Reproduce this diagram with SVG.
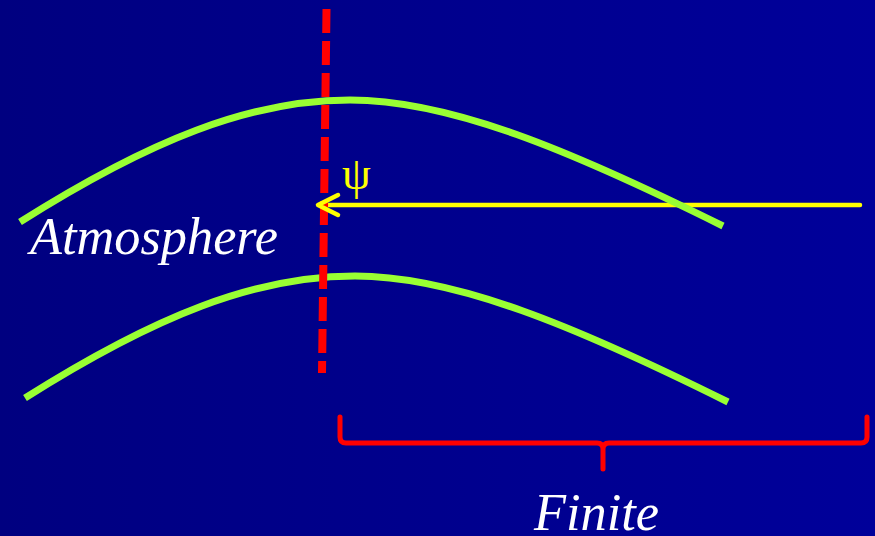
<svg xmlns="http://www.w3.org/2000/svg" width="875" height="536" viewBox="0 0 875 536">
<defs>
<linearGradient id="bg" x1="0" y1="0" x2="1" y2="0">
<stop offset="0" stop-color="#000080"/>
<stop offset="1" stop-color="#00009A"/>
</linearGradient>
</defs>
<style>
.curve{fill:none;stroke:#99FF33;stroke-width:7}
.ray{fill:none;stroke:#FFFF00;stroke-width:4.5;stroke-linecap:round;stroke-linejoin:round}
.lbl{font-family:"Liberation Serif","Times New Roman",serif;font-style:italic;fill:#FFFFFF}
</style>
<rect width="875" height="536" fill="url(#bg)"/>
<g id="ray-line">
<line class="ray" x1="320" y1="205" x2="860" y2="205" stroke-linecap="butt"/>
</g>
<g id="atmosphere-curves">
<path class="curve" d="M20,222 C150,140 250,100 350,100 C450,100 570,150 723,226"/>
<path class="curve" d="M20,222 C150,140 250,100 350,100 C450,100 570,150 723,226" transform="translate(5,176)"/>
</g>
<g id="boundary">
<line x1="326.5" y1="9" x2="322" y2="373" stroke="#FF0000" stroke-width="8" stroke-dasharray="24 8"/>
</g>
<g id="ray-head">
<path class="ray" d="M338,195 L318,205 L338,215"/>
<text x="342" y="189" font-family="'Liberation Serif','Times New Roman',serif" font-size="46" fill="#FFFF00">ψ</text>
</g>
<g id="brace">
<path d="M340,417 L340,437 Q340,443 346,443 L597,443 Q603,443 603,449 L603,469 M603,449 Q603,443 609,443 L861,443 Q867,443 867,437 L867,417" fill="none" stroke="#FF0000" stroke-width="5" stroke-linecap="round" stroke-linejoin="round"/>
</g>
<g id="labels">
<text class="lbl" x="30" y="254" font-size="52" textLength="248" lengthAdjust="spacingAndGlyphs">Atmosphere</text>
<text class="lbl" x="534" y="530" font-size="52" textLength="125" lengthAdjust="spacingAndGlyphs">Finite</text>
</g>
</svg>
